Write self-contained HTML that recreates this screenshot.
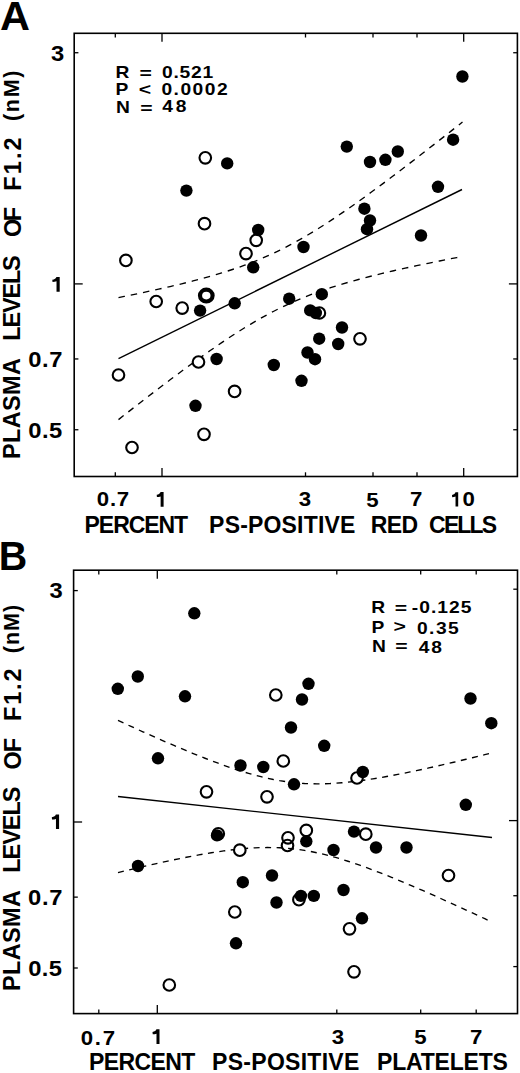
<!DOCTYPE html>
<html><head><meta charset="utf-8"><title>Figure</title>
<style>
html,body{margin:0;padding:0;background:#fff;}
body{width:520px;height:1073px;overflow:hidden;font-family:"Liberation Sans", sans-serif;}
svg{display:block;}
</style></head>
<body>
<svg width="520" height="1073" viewBox="0 0 520 1073">
<rect width="520" height="1073" fill="#fff"/>
<g stroke="#000" fill="none" stroke-linecap="butt">
<rect x="74.2" y="33.3" width="443.2" height="443.2" fill="none" stroke="#000" stroke-width="1.6"/>
<line x1="115.3" y1="476.5" x2="115.3" y2="472.3" stroke-width="1.3"/>
<line x1="115.3" y1="33.3" x2="115.3" y2="37.5" stroke-width="1.3"/>
<line x1="162" y1="476.5" x2="162" y2="468" stroke-width="1.3"/>
<line x1="162" y1="33.3" x2="162" y2="41.8" stroke-width="1.3"/>
<line x1="305.5" y1="476.5" x2="305.5" y2="472.3" stroke-width="1.3"/>
<line x1="305.5" y1="33.3" x2="305.5" y2="37.5" stroke-width="1.3"/>
<line x1="373" y1="476.5" x2="373" y2="472.3" stroke-width="1.3"/>
<line x1="373" y1="33.3" x2="373" y2="37.5" stroke-width="1.3"/>
<line x1="417" y1="476.5" x2="417" y2="472.3" stroke-width="1.3"/>
<line x1="417" y1="33.3" x2="417" y2="37.5" stroke-width="1.3"/>
<line x1="463.7" y1="476.5" x2="463.7" y2="468" stroke-width="1.3"/>
<line x1="463.7" y1="33.3" x2="463.7" y2="41.8" stroke-width="1.3"/>
<line x1="74.2" y1="52.73" x2="78.4" y2="52.73" stroke-width="1.3"/>
<line x1="517.4" y1="52.73" x2="513.2" y2="52.73" stroke-width="1.3"/>
<line x1="74.2" y1="283.9" x2="82.7" y2="283.9" stroke-width="1.3"/>
<line x1="517.4" y1="283.9" x2="508.9" y2="283.9" stroke-width="1.3"/>
<line x1="74.2" y1="358.95" x2="78.4" y2="358.95" stroke-width="1.3"/>
<line x1="517.4" y1="358.95" x2="513.2" y2="358.95" stroke-width="1.3"/>
<line x1="74.2" y1="429.75" x2="78.4" y2="429.75" stroke-width="1.3"/>
<line x1="517.4" y1="429.75" x2="513.2" y2="429.75" stroke-width="1.3"/>
<rect x="73.6" y="570.2" width="443.9" height="443.4" fill="none" stroke="#000" stroke-width="1.6"/>
<line x1="98.8" y1="1013.6" x2="98.8" y2="1009.4" stroke-width="1.3"/>
<line x1="98.8" y1="570.2" x2="98.8" y2="574.4" stroke-width="1.3"/>
<line x1="157.3" y1="1013.6" x2="157.3" y2="1005.1" stroke-width="1.3"/>
<line x1="157.3" y1="570.2" x2="157.3" y2="578.7" stroke-width="1.3"/>
<line x1="336.8" y1="1013.6" x2="336.8" y2="1009.4" stroke-width="1.3"/>
<line x1="336.8" y1="570.2" x2="336.8" y2="574.4" stroke-width="1.3"/>
<line x1="420.7" y1="1013.6" x2="420.7" y2="1009.4" stroke-width="1.3"/>
<line x1="420.7" y1="570.2" x2="420.7" y2="574.4" stroke-width="1.3"/>
<line x1="476.2" y1="1013.6" x2="476.2" y2="1009.4" stroke-width="1.3"/>
<line x1="476.2" y1="570.2" x2="476.2" y2="574.4" stroke-width="1.3"/>
<line x1="73.6" y1="590.6" x2="77.8" y2="590.6" stroke-width="1.3"/>
<line x1="517.5" y1="589.2" x2="513.3" y2="589.2" stroke-width="1.3"/>
<line x1="73.6" y1="822" x2="82.1" y2="822" stroke-width="1.3"/>
<line x1="517.5" y1="820.6" x2="509" y2="820.6" stroke-width="1.3"/>
<line x1="73.6" y1="897.13" x2="77.8" y2="897.13" stroke-width="1.3"/>
<line x1="517.5" y1="895.73" x2="513.3" y2="895.73" stroke-width="1.3"/>
<line x1="73.6" y1="968" x2="77.8" y2="968" stroke-width="1.3"/>
<line x1="517.5" y1="966.6" x2="513.3" y2="966.6" stroke-width="1.3"/>
<line x1="118.5" y1="358.6" x2="462" y2="189.5" stroke-width="1.4"/>
<line x1="118" y1="796.5" x2="492" y2="837.5" stroke-width="1.4"/>
</g>
<g stroke="#000" fill="none" stroke-width="1.35">
<path d="M118.5,297.6 L124.23,296.45 L129.97,295.28 L135.7,294.1 L141.43,292.9 L147.17,291.68 L152.9,290.44 L158.63,289.17 L164.37,287.88 L170.1,286.57 L175.83,285.22 L181.57,283.84 L187.3,282.43 L193.03,280.97 L198.77,279.47 L204.5,277.92 L210.23,276.31 L215.97,274.65 L221.7,272.92 L227.43,271.12 L233.17,269.24 L238.9,267.27 L244.63,265.22 L250.37,263.06 L256.1,260.79 L261.83,258.42 L267.57,255.92 L273.3,253.31 L279.03,250.57 L284.77,247.71 L290.5,244.72 L296.23,241.61 L301.97,238.38 L307.7,235.03 L313.43,231.58 L319.17,228.03 L324.9,224.38 L330.63,220.64 L336.37,216.83 L342.1,212.93 L347.83,208.97 L353.57,204.95 L359.3,200.88 L365.03,196.75 L370.77,192.57 L376.5,188.36 L382.23,184.1 L387.97,179.82 L393.7,175.5 L399.43,171.15 L405.17,166.78 L410.9,162.38 L416.63,157.96 L422.37,153.53 L428.1,149.07 L433.83,144.6 L439.57,140.11 L445.3,135.61 L451.03,131.1 L456.77,126.57 L462.5,122.04" stroke-dasharray="6.5 6"/>
<path d="M118.5,419.6 L124.23,415.1 L129.97,410.63 L135.7,406.17 L141.43,401.72 L147.17,397.3 L152.9,392.89 L158.63,388.51 L164.37,384.16 L170.1,379.83 L175.83,375.53 L181.57,371.26 L187.3,367.04 L193.03,362.85 L198.77,358.7 L204.5,354.61 L210.23,350.57 L215.97,346.59 L221.7,342.67 L227.43,338.83 L233.17,335.06 L238.9,331.38 L244.63,327.8 L250.37,324.31 L256.1,320.93 L261.83,317.66 L267.57,314.51 L273.3,311.48 L279.03,308.57 L284.77,305.79 L290.5,303.14 L296.23,300.6 L301.97,298.19 L307.7,295.89 L313.43,293.69 L319.17,291.6 L324.9,289.6 L330.63,287.7 L336.37,285.87 L342.1,284.12 L347.83,282.43 L353.57,280.81 L359.3,279.24 L365.03,277.72 L370.77,276.25 L376.5,274.82 L382.23,273.43 L387.97,272.07 L393.7,270.75 L399.43,269.45 L405.17,268.18 L410.9,266.93 L416.63,265.7 L422.37,264.5 L428.1,263.31 L433.83,262.13 L439.57,260.97 L445.3,259.83 L451.03,258.7 L456.77,257.58 L462.5,256.47" stroke-dasharray="6.5 6"/>
<path d="M118,720.44 L124.22,723.3 L130.43,726.15 L136.65,728.97 L142.87,731.78 L149.08,734.57 L155.3,737.33 L161.52,740.07 L167.73,742.78 L173.95,745.46 L180.17,748.11 L186.38,750.71 L192.6,753.28 L198.82,755.79 L205.03,758.25 L211.25,760.65 L217.47,762.99 L223.68,765.25 L229.9,767.42 L236.12,769.51 L242.33,771.49 L248.55,773.36 L254.77,775.11 L260.98,776.72 L267.2,778.19 L273.42,779.5 L279.63,780.64 L285.85,781.62 L292.07,782.41 L298.28,783.03 L304.5,783.48 L310.72,783.74 L316.93,783.85 L323.15,783.79 L329.37,783.58 L335.58,783.24 L341.8,782.77 L348.02,782.18 L354.23,781.49 L360.45,780.7 L366.67,779.83 L372.88,778.87 L379.1,777.86 L385.32,776.77 L391.53,775.64 L397.75,774.45 L403.97,773.22 L410.18,771.95 L416.4,770.65 L422.62,769.31 L428.83,767.94 L435.05,766.55 L441.27,765.13 L447.48,763.69 L453.7,762.23 L459.92,760.75 L466.13,759.26 L472.35,757.75 L478.57,756.22 L484.78,754.69 L491,753.14" stroke-dasharray="6 5.5"/>
<path d="M118,872.56 L124.22,871.06 L130.43,869.58 L136.65,868.12 L142.87,866.67 L149.08,865.24 L155.3,863.84 L161.52,862.47 L167.73,861.12 L173.95,859.8 L180.17,858.52 L186.38,857.28 L192.6,856.08 L198.82,854.93 L205.03,853.83 L211.25,852.79 L217.47,851.82 L223.68,850.92 L229.9,850.11 L236.12,849.39 L242.33,848.77 L248.55,848.26 L254.77,847.88 L260.98,847.63 L267.2,847.52 L273.42,847.58 L279.63,847.79 L285.85,848.18 L292.07,848.75 L298.28,849.49 L304.5,850.42 L310.72,851.51 L316.93,852.77 L323.15,854.19 L329.37,855.76 L335.58,857.47 L341.8,859.3 L348.02,861.25 L354.23,863.31 L360.45,865.46 L366.67,867.7 L372.88,870.01 L379.1,872.39 L385.32,874.83 L391.53,877.33 L397.75,879.88 L403.97,882.48 L410.18,885.11 L416.4,887.78 L422.62,890.48 L428.83,893.21 L435.05,895.97 L441.27,898.75 L447.48,901.55 L453.7,904.37 L459.92,907.21 L466.13,910.07 L472.35,912.94 L478.57,915.83 L484.78,918.73 L491,921.64" stroke-dasharray="6 5.5"/>
</g>
<g>
<circle cx="205.3" cy="157.8" r="5.8" fill="#fff" stroke="#000" stroke-width="2.1"/>
<circle cx="204.5" cy="223.7" r="5.8" fill="#fff" stroke="#000" stroke-width="2.1"/>
<circle cx="125.9" cy="260.4" r="5.8" fill="#fff" stroke="#000" stroke-width="2.1"/>
<circle cx="256.2" cy="240.3" r="5.8" fill="#fff" stroke="#000" stroke-width="2.1"/>
<circle cx="246" cy="253.6" r="5.8" fill="#fff" stroke="#000" stroke-width="2.1"/>
<circle cx="182.2" cy="308.1" r="5.8" fill="#fff" stroke="#000" stroke-width="2.1"/>
<circle cx="156.2" cy="301.5" r="5.8" fill="#fff" stroke="#000" stroke-width="2.1"/>
<circle cx="360" cy="338.8" r="5.8" fill="#fff" stroke="#000" stroke-width="2.1"/>
<circle cx="198.5" cy="362" r="5.8" fill="#fff" stroke="#000" stroke-width="2.1"/>
<circle cx="118.5" cy="375" r="5.8" fill="#fff" stroke="#000" stroke-width="2.1"/>
<circle cx="234.6" cy="391.4" r="5.8" fill="#fff" stroke="#000" stroke-width="2.1"/>
<circle cx="204" cy="434.3" r="5.8" fill="#fff" stroke="#000" stroke-width="2.1"/>
<circle cx="132" cy="447.5" r="5.8" fill="#fff" stroke="#000" stroke-width="2.1"/>
<circle cx="462.4" cy="76.5" r="6.2" fill="#000"/>
<circle cx="453.1" cy="139.7" r="6.2" fill="#000"/>
<circle cx="346.8" cy="146.6" r="6.2" fill="#000"/>
<circle cx="370" cy="162" r="6.2" fill="#000"/>
<circle cx="385.4" cy="159.8" r="6.2" fill="#000"/>
<circle cx="397.8" cy="151.5" r="6.2" fill="#000"/>
<circle cx="186.4" cy="190.6" r="6.2" fill="#000"/>
<circle cx="227.2" cy="163.4" r="6.2" fill="#000"/>
<circle cx="438" cy="186.8" r="6.2" fill="#000"/>
<circle cx="364.4" cy="208.7" r="6.2" fill="#000"/>
<circle cx="370" cy="220.5" r="6.2" fill="#000"/>
<circle cx="367" cy="229.2" r="6.2" fill="#000"/>
<circle cx="421" cy="235.5" r="6.2" fill="#000"/>
<circle cx="258.2" cy="230" r="6.2" fill="#000"/>
<circle cx="303.5" cy="247" r="6.2" fill="#000"/>
<circle cx="253.2" cy="267.3" r="6.2" fill="#000"/>
<circle cx="234.7" cy="303.3" r="6.2" fill="#000"/>
<circle cx="200.1" cy="310.6" r="6.2" fill="#000"/>
<circle cx="289.2" cy="298.7" r="6.2" fill="#000"/>
<circle cx="321.8" cy="294.2" r="6.2" fill="#000"/>
<circle cx="310.2" cy="310.4" r="6.2" fill="#000"/>
<circle cx="342" cy="327.5" r="6.2" fill="#000"/>
<circle cx="319.2" cy="338.7" r="6.2" fill="#000"/>
<circle cx="338.2" cy="344" r="6.2" fill="#000"/>
<circle cx="307.5" cy="352.5" r="6.2" fill="#000"/>
<circle cx="315" cy="359.2" r="6.2" fill="#000"/>
<circle cx="216.6" cy="359" r="6.2" fill="#000"/>
<circle cx="273.8" cy="365" r="6.2" fill="#000"/>
<circle cx="301.5" cy="380.8" r="6.2" fill="#000"/>
<circle cx="195.5" cy="405.8" r="6.2" fill="#000"/>
<ellipse cx="206.3" cy="295.6" rx="6.3" ry="5.9" fill="#fff" stroke="#000" stroke-width="4.2"/>
<circle cx="319.4" cy="313" r="5.8" fill="#fff" stroke="#000" stroke-width="2.1"/>
<circle cx="315.8" cy="313" r="6.2" fill="#000"/>
<circle cx="275.8" cy="695" r="5.8" fill="#fff" stroke="#000" stroke-width="2.1"/>
<circle cx="283.3" cy="761" r="5.8" fill="#fff" stroke="#000" stroke-width="2.1"/>
<circle cx="206.5" cy="791.8" r="5.8" fill="#fff" stroke="#000" stroke-width="2.1"/>
<circle cx="267" cy="796.8" r="5.8" fill="#fff" stroke="#000" stroke-width="2.1"/>
<circle cx="239.8" cy="850.2" r="5.8" fill="#fff" stroke="#000" stroke-width="2.1"/>
<circle cx="234.8" cy="912" r="5.8" fill="#fff" stroke="#000" stroke-width="2.1"/>
<circle cx="169.3" cy="985" r="5.8" fill="#fff" stroke="#000" stroke-width="2.1"/>
<circle cx="349.5" cy="928.8" r="5.8" fill="#fff" stroke="#000" stroke-width="2.1"/>
<circle cx="354" cy="971.8" r="5.8" fill="#fff" stroke="#000" stroke-width="2.1"/>
<circle cx="448.5" cy="875.5" r="5.8" fill="#fff" stroke="#000" stroke-width="2.1"/>
<circle cx="194.3" cy="613.3" r="6.2" fill="#000"/>
<circle cx="137.8" cy="676.5" r="6.2" fill="#000"/>
<circle cx="117.8" cy="688.8" r="6.2" fill="#000"/>
<circle cx="185" cy="696.3" r="6.2" fill="#000"/>
<circle cx="308.5" cy="683.8" r="6.2" fill="#000"/>
<circle cx="302" cy="699.5" r="6.2" fill="#000"/>
<circle cx="158" cy="758.3" r="6.2" fill="#000"/>
<circle cx="291" cy="727.5" r="6.2" fill="#000"/>
<circle cx="324.2" cy="745.8" r="6.2" fill="#000"/>
<circle cx="240.5" cy="765.5" r="6.2" fill="#000"/>
<circle cx="263.3" cy="767" r="6.2" fill="#000"/>
<circle cx="294" cy="784.3" r="6.2" fill="#000"/>
<circle cx="138" cy="866" r="6.2" fill="#000"/>
<circle cx="242.8" cy="882.2" r="6.2" fill="#000"/>
<circle cx="272" cy="875.5" r="6.2" fill="#000"/>
<circle cx="276.5" cy="902.5" r="6.2" fill="#000"/>
<circle cx="313.8" cy="895.9" r="6.2" fill="#000"/>
<circle cx="236" cy="943.3" r="6.2" fill="#000"/>
<circle cx="354" cy="831.6" r="6.2" fill="#000"/>
<circle cx="333.5" cy="850" r="6.2" fill="#000"/>
<circle cx="376" cy="847.5" r="6.2" fill="#000"/>
<circle cx="406.5" cy="847.5" r="6.2" fill="#000"/>
<circle cx="343.5" cy="890" r="6.2" fill="#000"/>
<circle cx="362" cy="918.3" r="6.2" fill="#000"/>
<circle cx="470.5" cy="698.5" r="6.2" fill="#000"/>
<circle cx="491.3" cy="723.2" r="6.2" fill="#000"/>
<circle cx="465.8" cy="804.8" r="6.2" fill="#000"/>
<circle cx="218.3" cy="833.8" r="5.8" fill="#fff" stroke="#000" stroke-width="2.1"/>
<circle cx="217" cy="835.4" r="6.2" fill="#000"/>
<circle cx="288" cy="837.8" r="5.8" fill="none" stroke="#000" stroke-width="2.1"/>
<circle cx="287.5" cy="845.5" r="5.8" fill="none" stroke="#000" stroke-width="2.1"/>
<circle cx="306.3" cy="830.4" r="5.8" fill="#fff" stroke="#000" stroke-width="2.1"/>
<circle cx="306.3" cy="841.3" r="6.2" fill="#000"/>
<circle cx="298.9" cy="899.7" r="5.8" fill="#fff" stroke="#000" stroke-width="2.1"/>
<circle cx="300.9" cy="895.9" r="6.2" fill="#000"/>
<circle cx="357" cy="778" r="5.8" fill="#fff" stroke="#000" stroke-width="2.1"/>
<circle cx="362.8" cy="772" r="6.2" fill="#000"/>
<circle cx="365.8" cy="834.2" r="5.8" fill="#fff" stroke="#000" stroke-width="2.1"/>
</g>
<path d="M59.7,276.9 L59.7,291.7 L56.52,291.7 L56.52,281.34 C55.41,281.64 53.78,281.93 52.52,281.93 L52.3,279.71 C54.52,279.27 56,278.38 56.44,276.9Z" fill="#000"/>
<path d="M163.6,492 L163.6,506.8 L160.63,506.8 L160.63,496.44 C159.6,496.74 158.08,497.03 156.91,497.03 L156.7,494.81 C158.77,494.37 160.15,493.48 160.56,492Z" fill="#000"/>
<path d="M458.2,492.3 L458.2,506.5 L455.53,506.5 L455.53,496.56 C454.6,496.84 453.24,497.13 452.19,497.13 L452,495 C453.86,494.57 455.1,493.72 455.47,492.3Z" fill="#000"/>
<path d="M59.1,814.5 L59.1,829.1 L55.96,829.1 L55.96,818.88 C54.87,819.17 53.26,819.46 52.02,819.46 L51.8,817.27 C53.99,816.84 55.45,815.96 55.89,814.5Z" fill="#000"/>
<path d="M159.5,1029.3 L159.5,1043.9 L156.49,1043.9 L156.49,1033.68 C155.44,1033.97 153.9,1034.26 152.71,1034.26 L152.5,1032.07 C154.6,1031.64 156,1030.76 156.42,1029.3Z" fill="#000"/>
<g font-family='"Liberation Sans", sans-serif' font-weight="bold" fill="#000">
<text id="A" x="-0.12" y="29.8" font-size="41.5">A</text>
<text id="B" transform="translate(-1.19,570.4) scale(0.95,1)" font-size="41.5">B</text>
<text id="a_y3" transform="translate(50.96,61.3) scale(1.08,1)" font-size="22">3</text>
<text id="a_y07" transform="translate(28.3,366.9) scale(1.08,1)" font-size="22" textLength="31.59" lengthAdjust="spacing">0.7</text>
<text id="a_y05" transform="translate(28.3,437.9) scale(1.08,1)" font-size="22" textLength="31.4" lengthAdjust="spacing">0.5</text>
<text id="a_x07" transform="translate(96.87,506.1) scale(1.08,1)" font-size="20.6" textLength="29.94" lengthAdjust="spacing">0.7</text>
<text id="a_x3" transform="translate(298.74,506.1) scale(1.08,1)" font-size="20.6">3</text>
<text id="a_x5" transform="translate(366.32,506.7) scale(1.08,1)" font-size="20.6">5</text>
<text id="a_x7" transform="translate(409.9,505.9) scale(1.08,1)" font-size="20.6">7</text>
<text id="a_x10" transform="translate(462.61,505.84) scale(1.08,1)" font-size="20.6" textLength="46.17" lengthAdjust="spacing">0</text>
<text id="a_t1" x="84.59" y="532.8" font-size="23" textLength="103.58" lengthAdjust="spacing">PERCENT</text>
<text id="a_t2" x="209.11" y="532.8" font-size="23" textLength="146.24" lengthAdjust="spacing">PS-POSITIVE</text>
<text id="a_t3" x="370.73" y="532.8" font-size="23" textLength="47.31" lengthAdjust="spacing">RED</text>
<text id="a_t4" x="429.11" y="533" font-size="23" textLength="68" lengthAdjust="spacing">CELLS</text>
<text id="a_v1" transform="translate(20.34,458.9) rotate(-90)" font-size="23.5" textLength="100.9" lengthAdjust="spacing">PLASMA</text>
<text id="a_v2" transform="translate(20.24,340.66) rotate(-90)" font-size="23.5" textLength="85.39" lengthAdjust="spacing">LEVELS</text>
<text id="a_v3" transform="translate(20.94,237) rotate(-90)" font-size="23.5" textLength="30.06" lengthAdjust="spacing">OF</text>
<text id="a_v4" transform="translate(20.54,190.66) rotate(-90)" font-size="23.5" textLength="53.31" lengthAdjust="spacing">F1.2</text>
<text id="a_v5" transform="translate(18.54,121.02) rotate(-90)" font-size="21.5" textLength="50.53" lengthAdjust="spacing">(nM)</text>
<text id="a_sR" transform="translate(115.57,78) scale(1.18,1)" font-size="16.3">R</text>
<text id="a_sP" transform="translate(115.5,94.8) scale(1.18,1)" font-size="16.3">P</text>
<text id="a_sN" transform="translate(116.08,112.5) scale(1.18,1)" font-size="16.3">N</text>
<text id="a_se1" transform="translate(139.5,79.1) scale(1.3,1)" font-size="16.3">=</text>
<text id="a_slt" transform="translate(138.84,95.4) scale(1.3,1)" font-size="16.3">&lt;</text>
<text id="a_se2" transform="translate(140.16,113.5) scale(1.3,1)" font-size="16.3">=</text>
<text id="a_sv1" transform="translate(161.89,77.6) scale(1.18,1)" font-size="16.3" textLength="43.53" lengthAdjust="spacing">0.521</text>
<text id="a_sv2" transform="translate(161.44,94.79) scale(1.18,1)" font-size="16.3" textLength="56.11" lengthAdjust="spacing">0.0002</text>
<text id="a_sv3" transform="translate(162.21,112.3) scale(1.18,1)" font-size="16.3" textLength="20.61" lengthAdjust="spacing">48</text>
<text id="b_y3" transform="translate(49.57,598.28) scale(1.08,1)" font-size="22">3</text>
<text id="b_y07" transform="translate(27.96,904.8) scale(1.08,1)" font-size="22" textLength="31.92" lengthAdjust="spacing">0.7</text>
<text id="b_y05" transform="translate(28.3,975.7) scale(1.08,1)" font-size="22" textLength="31.18" lengthAdjust="spacing">0.5</text>
<text id="b_x07" transform="translate(80.86,1044.5) scale(1.08,1)" font-size="20.6" textLength="31.67" lengthAdjust="spacing">0.7</text>
<text id="b_x3" transform="translate(331.73,1043.8) scale(1.08,1)" font-size="20.6">3</text>
<text id="b_x5" transform="translate(414.14,1043.6) scale(1.08,1)" font-size="20.6">5</text>
<text id="b_x7" transform="translate(469.97,1043.6) scale(1.08,1)" font-size="20.6">7</text>
<text id="b_t1" x="88.98" y="1069.7" font-size="23" textLength="106.43" lengthAdjust="spacing">PERCENT</text>
<text id="b_t2" x="212.11" y="1069.7" font-size="23" textLength="147.14" lengthAdjust="spacing">PS-POSITIVE</text>
<text id="b_t3" x="377" y="1069.7" font-size="23" textLength="130.91" lengthAdjust="spacing">PLATELETS</text>
<text id="b_v1" transform="translate(20.34,991.11) rotate(-90)" font-size="23.5" textLength="101.1" lengthAdjust="spacing">PLASMA</text>
<text id="b_v2" transform="translate(20.24,872.77) rotate(-90)" font-size="23.5" textLength="86.23" lengthAdjust="spacing">LEVELS</text>
<text id="b_v3" transform="translate(20.94,769.6) rotate(-90)" font-size="23.5" textLength="31.8" lengthAdjust="spacing">OF</text>
<text id="b_v4" transform="translate(20.54,721.11) rotate(-90)" font-size="23.5" textLength="52.76" lengthAdjust="spacing">F1.2</text>
<text id="b_v5" transform="translate(18.54,653.2) rotate(-90)" font-size="21.5" textLength="48.25" lengthAdjust="spacing">(nM)</text>
<text id="b_sR" transform="translate(371.35,613.3) scale(1.18,1)" font-size="16.3">R</text>
<text id="b_sP" transform="translate(371.55,632.6) scale(1.18,1)" font-size="16.3">P</text>
<text id="b_sN" transform="translate(372.03,651.7) scale(1.18,1)" font-size="16.3">N</text>
<text id="b_se1" transform="translate(394.64,613.5) scale(1.3,1)" font-size="16.3">=</text>
<text id="b_sgt" transform="translate(393.56,632) scale(1.3,1)" font-size="16.3">&gt;</text>
<text id="b_se2" transform="translate(395.17,652.2) scale(1.3,1)" font-size="16.3">=</text>
<text id="b_sv1" transform="translate(411.77,612.6) scale(1.18,1)" font-size="16.3" textLength="50.6" lengthAdjust="spacing">-0.125</text>
<text id="b_sv2" transform="translate(416.91,633.6) scale(1.18,1)" font-size="16.3" textLength="35.49" lengthAdjust="spacing">0.35</text>
<text id="b_sv3" transform="translate(418.78,652.9) scale(1.18,1)" font-size="16.3" textLength="19.7" lengthAdjust="spacing">48</text>
</g>
</svg>
</body></html>
